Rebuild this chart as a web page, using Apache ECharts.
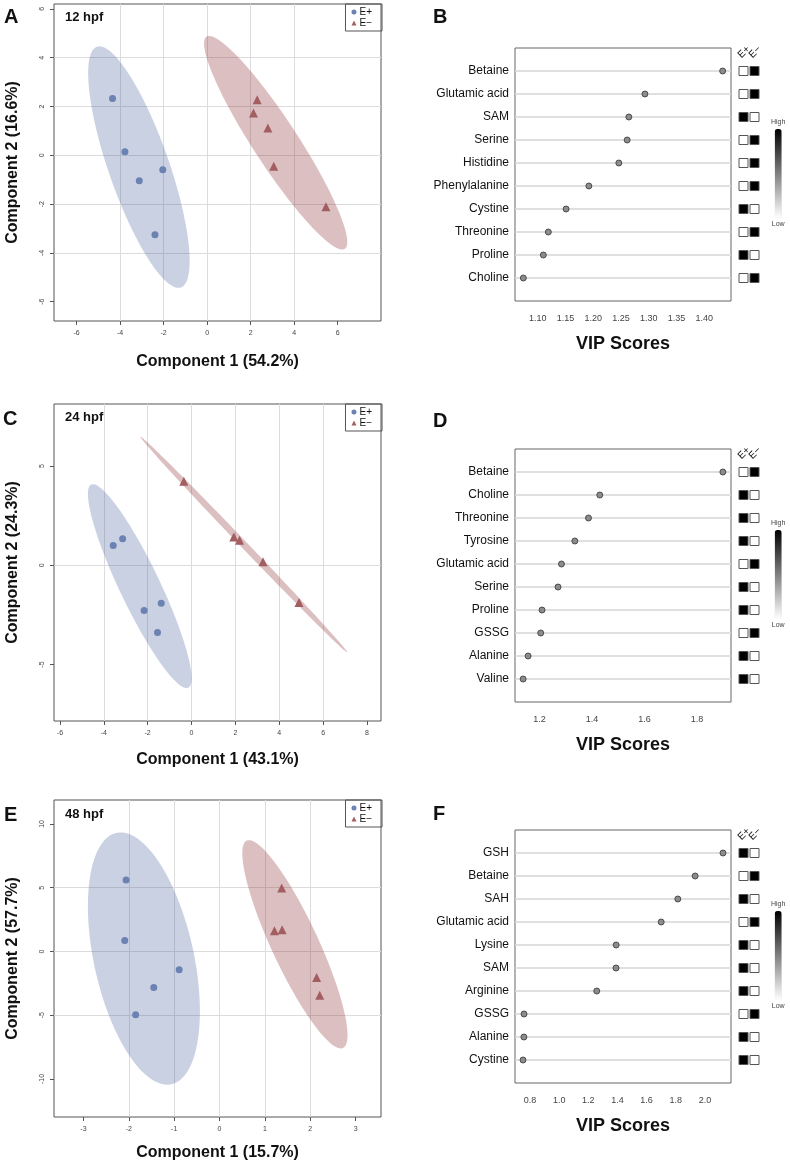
<!DOCTYPE html>
<html>
<head>
<meta charset="utf-8">
<script src="https://cdn.jsdelivr.net/npm/echarts@6/dist/echarts.min.js"></script>
<style>
  html, body { margin: 0; padding: 0; background: #fff; }
  #chart { width: 790px; height: 1166px; }
</style>
</head>
<body>
<div id="chart"></div>
<script>
const FONT = '"Liberation Sans", Arial, sans-serif';

// PLS-DA scores (component 1, component 2)
const scoresA_Eplus = [[-4.35, 2.33], [-3.78, 0.15], [-3.12, -1.04], [-2.04, -0.59], [-2.40, -3.26]];
const scoresA_Eminus = [[2.30, 2.28], [2.13, 1.73], [2.79, 1.12], [3.06, -0.45], [5.46, -2.11]];
const scoresC_Eplus = [[-3.57, 0.99], [-3.14, 1.34], [-2.16, -2.28], [-1.38, -1.91], [-1.55, -3.39]];
const scoresC_Eminus = [[-0.35, 4.23], [1.93, 1.43], [2.19, 1.26], [3.26, 0.18], [4.90, -1.88]];
const scoresE_Eplus = [[-2.06, 5.60], [-2.09, 0.86], [-0.89, -1.44], [-1.45, -2.83], [-1.85, -4.97]];
const scoresE_Eminus = [[1.37, 4.97], [1.21, 1.62], [1.38, 1.70], [2.14, -2.04], [2.21, -3.43]];

const ticksA_x = [-6, -4, -2, 0, 2, 4, 6];
const ticksA_y = [-6, -4, -2, 0, 2, 4, 6];
const ticksC_x = [-6, -4, -2, 0, 2, 4, 6, 8];
const ticksC_y = [-5, 0, 5];
const ticksE_x = [-3, -2, -1, 0, 1, 2, 3];
const ticksE_y = [-10, -5, 0, 5, 10];

// VIP scores
const vipB_names = ['Betaine', 'Glutamic acid', 'SAM', 'Serine', 'Histidine', 'Phenylalanine', 'Cystine', 'Threonine', 'Proline', 'Choline'];
const vipB_scores = [1.433, 1.293, 1.264, 1.261, 1.246, 1.192, 1.151, 1.119, 1.110, 1.074];
const heatB_Eplus = [0, 0, 1, 0, 0, 0, 1, 0, 1, 0];
const heatB_Eminus = [1, 1, 0, 1, 1, 1, 0, 1, 0, 1];
const ticksB = [1.10, 1.15, 1.20, 1.25, 1.30, 1.35, 1.40];

const vipD_names = ['Betaine', 'Choline', 'Threonine', 'Tyrosine', 'Glutamic acid', 'Serine', 'Proline', 'GSSG', 'Alanine', 'Valine'];
const vipD_scores = [1.899, 1.430, 1.387, 1.335, 1.284, 1.271, 1.210, 1.205, 1.157, 1.138];
const heatD_Eplus = [0, 1, 1, 1, 0, 1, 1, 0, 1, 1];
const heatD_Eminus = [1, 0, 0, 0, 1, 0, 0, 1, 0, 0];
const ticksD = [1.2, 1.4, 1.6, 1.8];

const vipF_names = ['GSH', 'Betaine', 'SAH', 'Glutamic acid', 'Lysine', 'SAM', 'Arginine', 'GSSG', 'Alanine', 'Cystine'];
const vipF_scores = [2.124, 1.933, 1.814, 1.700, 1.391, 1.390, 1.258, 0.759, 0.758, 0.752];
const heatF_Eplus = [1, 0, 1, 0, 1, 1, 1, 0, 1, 1];
const heatF_Eminus = [0, 1, 0, 1, 0, 0, 0, 1, 0, 0];
const ticksF = [0.8, 1.0, 1.2, 1.4, 1.6, 1.8, 2.0];

const groups = ['E+', 'E\u2212'];

// 95% confidence ellipse from the group's scores
function confEllipse(pts) {
  const n = pts.length;
  const mx = pts.reduce((s, p) => s + p[0], 0) / n;
  const my = pts.reduce((s, p) => s + p[1], 0) / n;
  let sxx = 0, syy = 0, sxy = 0;
  pts.forEach(p => {
    const dx = p[0] - mx, dy = p[1] - my;
    sxx += dx * dx; syy += dy * dy; sxy += dx * dy;
  });
  sxx /= n - 1; syy /= n - 1; sxy /= n - 1;
  const tr = sxx + syy, det = sxx * syy - sxy * sxy;
  const d = Math.sqrt(tr * tr / 4 - det);
  const l1 = tr / 2 + d, l2 = Math.max(tr / 2 - d, 0);
  const ang = Math.atan2(l1 - sxx, sxy);
  const t = Math.sqrt(5.991465);
  const out = [];
  for (let i = 0; i <= 120; i++) {
    const a = i / 120 * 2 * Math.PI;
    const u = t * Math.sqrt(l1) * Math.cos(a), v = t * Math.sqrt(l2) * Math.sin(a);
    out.push([mx + u * Math.cos(ang) - v * Math.sin(ang), my + u * Math.sin(ang) + v * Math.cos(ang)]);
  }
  return out;
}

const grid = [], xAxis = [], yAxis = [], series = [], legend = [], visualMap = [], headers = [];

function scatterPanel(top, blue, red, xr, yr, xt, yt, step, xName, yName, xGap) {
  const gi = grid.length;
  grid.push({ left: 54, top: top, width: 327, height: 317, show: true, borderColor: '#555', borderWidth: 1, backgroundColor: 'transparent' });
  const axisCommon = {
    gridIndex: gi, type: 'value',
    axisLine: { show: false, onZero: false },
    splitLine: { show: true, showMinLine: false, showMaxLine: false, lineStyle: { color: '#dcdcdc', width: 1 } },
    minInterval: step[0], maxInterval: step[0]
  };
  xAxis.push(Object.assign({}, axisCommon, {
    min: xr[0], max: xr[1],
    axisTick: { show: true, length: 4, customValues: xt, lineStyle: { color: '#555' } },
    axisLabel: { customValues: xt, fontSize: 7, color: '#444', margin: 9 },
    name: xName, nameLocation: 'middle', nameGap: xGap,
    nameTextStyle: { fontSize: 16, fontWeight: 'bold', color: '#111' }
  }));
  yAxis.push(Object.assign({}, axisCommon, {
    min: yr[0], max: yr[1], minInterval: step[1], maxInterval: step[1],
    axisTick: { show: true, length: 4, customValues: yt, lineStyle: { color: '#555' } },
    axisLabel: { customValues: yt, fontSize: 7, color: '#444', margin: 8, rotate: 90 },
    name: yName, nameLocation: 'middle', nameGap: 33,
    nameTextStyle: { fontSize: 16, fontWeight: 'bold', color: '#111' }
  }));
  [[blue, 'rgba(60,90,150,0.28)'], [red, 'rgba(139,42,46,0.3)']].forEach(([pts, fill]) => {
    const poly = confEllipse(pts);
    series.push({
      type: 'custom', xAxisIndex: gi, yAxisIndex: gi, silent: true, clip: true,
      data: [[0, 0]],
      renderItem: (params, api) => ({
        type: 'polygon',
        shape: { points: poly.map(p => api.coord(p)) },
        style: { fill: fill }
      })
    });
  });
  series.push({ name: groups[0], type: 'scatter', xAxisIndex: gi, yAxisIndex: gi, data: blue,
    symbol: 'circle', symbolSize: 7, itemStyle: { color: '#6b82b3', opacity: 1 } });
  series.push({ name: groups[1], type: 'scatter', xAxisIndex: gi, yAxisIndex: gi, data: red,
    symbol: 'triangle', symbolSize: 9, itemStyle: { color: '#a35e62', opacity: 1 } });
  legend.push({
    data: groups, orient: 'vertical', right: 408, top: top,
    borderColor: '#555', borderWidth: 1, padding: [3, 10, 3, 6],
    itemWidth: 5, itemHeight: 5, itemGap: 1,
    textStyle: { fontSize: 10, color: '#111', padding: [0, 0, 0, -2] },
    selectedMode: false
  });
}

function vipPanel(top, names, scores, plus, minus, xr, xt, dec) {
  const gi = grid.length;
  grid.push({ left: 515, top: top, width: 216, height: 253, show: true, borderColor: '#666', borderWidth: 1, backgroundColor: 'transparent' });
  xAxis.push({
    gridIndex: gi, type: 'value', min: xr[0], max: xr[1],
    axisLine: { show: false, onZero: false }, axisTick: { show: false }, splitLine: { show: false },
    axisLabel: { customValues: xt, formatter: v => v.toFixed(dec), fontSize: 9, color: '#444', margin: 13 },
    name: 'VIP Scores', nameLocation: 'middle', nameGap: 34,
    nameTextStyle: { fontSize: 18, fontWeight: 'bold', color: '#111' }
  });
  yAxis.push({
    gridIndex: gi, type: 'value', min: 0, max: 11, interval: 1, inverse: true,
    axisLine: { show: false, onZero: false }, axisTick: { show: false },
    splitLine: { show: true, showMinLine: false, showMaxLine: false, lineStyle: { color: '#d6d6d6', width: 1.5 } },
    axisLabel: { formatter: v => names[v - 1] || '', fontSize: 12, color: '#111', margin: 6 }
  });
  series.push({
    type: 'scatter', xAxisIndex: gi, yAxisIndex: gi,
    data: scores.map((s, i) => [s, i + 1]),
    symbolSize: 6, itemStyle: { color: '#8c8c8c', borderColor: '#333', borderWidth: 0.8, opacity: 1 }
  });
  // high/low indicator boxes
  const hi = grid.length;
  grid.push({ left: 738, top: top, width: 22, height: 253 });
  xAxis.push({
    gridIndex: hi, type: 'category', data: groups, show: false
  });
  yAxis.push({ gridIndex: hi, type: 'value', min: 0, max: 11, inverse: true, show: false });
  const data = [];
  names.forEach((n, i) => {
    data.push([0, i + 1, plus[i]]);
    data.push([1, i + 1, minus[i]]);
  });
  series.push({
    type: 'scatter', xAxisIndex: hi, yAxisIndex: hi, data: data,
    symbol: 'rect', symbolSize: 9, itemStyle: { borderColor: '#555', borderWidth: 1, opacity: 1 }
  });
  visualMap.push({
    type: 'continuous', min: 0, max: 1, dimension: 2, seriesIndex: series.length - 1,
    inRange: { color: ['#ffffff', '#000000'] },
    orient: 'vertical', left: 756, top: top + 56,
    itemWidth: 7, itemHeight: 89, text: ['High', 'Low'], textGap: 3,
    textStyle: { fontSize: 7, color: '#444' }, calculable: false, hoverLink: false
  });
  // rotated group headers above the boxes
  groups.forEach((g, k) => headers.push({
    type: 'text', x: 743 + k * 11, y: top + 12, rotation: Math.PI / 4,
    style: { text: g, font: '10px ' + FONT, fill: '#111', align: 'left', verticalAlign: 'bottom' }
  }));
}

scatterPanel(4, scoresA_Eplus, scoresA_Eminus, [-7.04, 7.99], [-6.79, 6.2], ticksA_x, ticksA_y, [2, 2],
  'Component 1 (54.2%)', 'Component 2 (16.6%)', 33);
vipPanel(48, vipB_names, vipB_scores, heatB_Eplus, heatB_Eminus, [1.059, 1.448], ticksB, 2);
scatterPanel(404, scoresC_Eplus, scoresC_Eminus, [-6.27, 8.64], [-7.84, 8.12], ticksC_x, ticksC_y, [2, 5],
  'Component 1 (43.1%)', 'Component 2 (24.3%)', 31);
vipPanel(449, vipD_names, vipD_scores, heatD_Eplus, heatD_Eminus, [1.107, 1.930], ticksD, 1);
scatterPanel(800, scoresE_Eplus, scoresE_Eminus, [-3.65, 3.56], [-12.98, 11.88], ticksE_x, ticksE_y, [1, 5],
  'Component 1 (15.7%)', 'Component 2 (57.7%)', 28);
vipPanel(830, vipF_names, vipF_scores, heatF_Eplus, heatF_Eminus, [0.697, 2.179], ticksF, 1);

const letter = (x, y, s) => ({ type: 'text', left: x, top: y,
  style: { text: s, font: 'bold 20px ' + FONT, fill: '#111' } });
const stage = (x, y, s) => ({ type: 'text', left: x, top: y,
  style: { text: s, font: 'bold 13px ' + FONT, fill: '#111' } });

const chart = echarts.init(document.getElementById('chart'), null, { renderer: 'canvas' });
chart.setOption({
  animation: false,
  backgroundColor: '#fff',
  textStyle: { fontFamily: FONT },
  grid, xAxis, yAxis, series, legend, visualMap,
  graphic: [
    letter(4, 7, 'A'), letter(433, 7, 'B'),
    letter(3, 409, 'C'), letter(433, 411, 'D'),
    letter(4, 805, 'E'), letter(433, 804, 'F'),
    stage(65, 11, '12 hpf'), stage(65, 411, '24 hpf'), stage(65, 808, '48 hpf')
  ].concat(headers)
});
</script>
</body>
</html>
